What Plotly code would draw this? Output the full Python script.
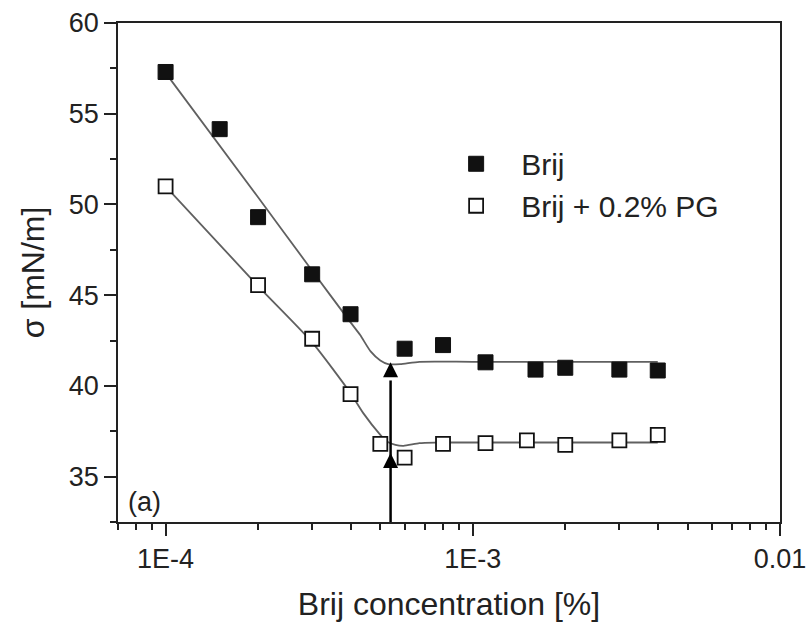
import plotly.graph_objects as go
import math

# ---- data ----
brij_x = [1e-4, 1.5e-4, 2e-4, 3e-4, 4e-4, 6e-4, 8e-4, 1.1e-3, 1.6e-3, 2e-3, 3e-3, 4e-3]
brij_y = [57.3, 54.15, 49.3, 46.15, 43.95, 42.05, 42.25, 41.3, 40.9, 41.0, 40.9, 40.85]

pg_x = [1e-4, 2e-4, 3e-4, 4e-4, 5e-4, 6e-4, 8e-4, 1.1e-3, 1.5e-3, 2e-3, 3e-3, 4e-3]
pg_y = [51.0, 45.55, 42.6, 39.55, 36.8, 36.05, 36.8, 36.85, 37.0, 36.75, 37.0, 37.3]

# fitted curves
fit_brij_x = [1e-4, 2e-4, 3e-4, 4e-4, 4.3e-4, 4.65e-4, 5e-4, 5.3e-4, 5.8e-4, 6.7e-4, 1e-3, 4e-3]
fit_brij_y = [57.25, 50.4, 46.35, 43.5, 42.8, 41.9, 41.4, 41.2, 41.2, 41.33, 41.33, 41.33]

fit_pg_x = [1e-4, 2e-4, 3e-4, 4e-4, 4.4e-4, 5e-4, 5.25e-4, 5.6e-4, 5.95e-4, 6.7e-4, 7.6e-4, 1e-3, 4e-3]
fit_pg_y = [51.0, 45.5, 42.4, 39.6, 38.5, 37.3, 36.93, 36.75, 36.7, 36.85, 36.88, 36.88, 36.88]

# CMC arrow
cmc_x = 5.4e-4
arrow_base = 32.5
arrow_tips = [41.3, 36.3]

x_tickvals = [1e-4, 1e-3, 1e-2]
x_ticktext = ["1E-4", "1E-3", "0.01"]

FONT = "Liberation Sans, Arial, sans-serif"
TXT = "#222222"

fig = go.Figure()

fig.add_trace(go.Scatter(x=fit_brij_x, y=fit_brij_y, mode="lines",
                         line=dict(color="#606060", width=1.8, shape="spline", smoothing=0.6),
                         showlegend=False, hoverinfo="skip"))
fig.add_trace(go.Scatter(x=fit_pg_x, y=fit_pg_y, mode="lines",
                         line=dict(color="#606060", width=1.8, shape="spline", smoothing=0.6),
                         showlegend=False, hoverinfo="skip"))

fig.add_trace(go.Scatter(x=brij_x, y=brij_y, mode="markers", name="Brij",
                         marker=dict(symbol="square", size=15, color="#111111",
                                     line=dict(color="#111111", width=1))))
fig.add_trace(go.Scatter(x=pg_x, y=pg_y, mode="markers", name="Brij + 0.2% PG",
                         marker=dict(symbol="square", size=14, color="white",
                                     line=dict(color="#111111", width=1.8))))

# arrow shaft and heads
fig.add_trace(go.Scatter(x=[cmc_x, cmc_x], y=[arrow_base, arrow_tips[0] - 1.0], mode="lines",
                         line=dict(color="black", width=2.5), showlegend=False, hoverinfo="skip"))
fig.add_trace(go.Scatter(x=[cmc_x] * len(arrow_tips), y=arrow_tips, mode="markers",
                         marker=dict(symbol="arrow-up", size=15, color="black", line=dict(width=0)),
                         showlegend=False, hoverinfo="skip"))

minor_x = [m * 10 ** e for e in (-5, -4, -3) for m in range(2, 10) if 7e-5 <= m * 10 ** e < 1e-2]

fig.update_xaxes(type="log", range=[math.log10(7e-5), -2], automargin=False,
                 tickmode="array", tickvals=x_tickvals, ticktext=x_ticktext,
                 ticks="outside", ticklen=12, tickwidth=1.5, tickcolor="#222",
                 minor=dict(tickmode="array", tickvals=minor_x, ticks="outside",
                            ticklen=6, tickwidth=1.5, tickcolor="#222", showgrid=False),
                 showline=True, linecolor="#222", linewidth=1.8, mirror=True,
                 showgrid=False, zeroline=False,
                 tickfont=dict(family=FONT, size=27, color=TXT),
                 title=dict(text="Brij concentration [%]", standoff=21,
                            font=dict(family=FONT, size=32, color=TXT)))
fig.update_yaxes(range=[32.5, 60], tick0=35, dtick=5, automargin=False,
                 ticks="outside", ticklen=12, tickwidth=1.5, tickcolor="#222",
                 minor=dict(dtick=2.5, ticks="outside", ticklen=6, tickwidth=1.5,
                            tickcolor="#222", showgrid=False),
                 showline=True, linecolor="#222", linewidth=1.8, mirror=True,
                 showgrid=False, zeroline=False,
                 tickfont=dict(family=FONT, size=27, color=TXT),
                 title=dict(text="σ [mN/m]", standoff=14,
                            font=dict(family=FONT, size=32, color=TXT)))

fig.add_annotation(text="(a)", xref="paper", yref="paper", x=0.012, y=0.04,
                   xanchor="left", yanchor="middle", showarrow=False,
                   font=dict(family=FONT, size=27, color=TXT))

fig.update_layout(width=807, height=622,
                  margin=dict(l=118, r=27, t=23, b=100),
                  paper_bgcolor="white", plot_bgcolor="white",
                  legend=dict(x=0.473, y=0.77, xanchor="left", yanchor="top",
                              itemwidth=80, bgcolor="rgba(0,0,0,0)",
                              font=dict(family=FONT, size=30, color=TXT)))

fig.write_html("out.html")
